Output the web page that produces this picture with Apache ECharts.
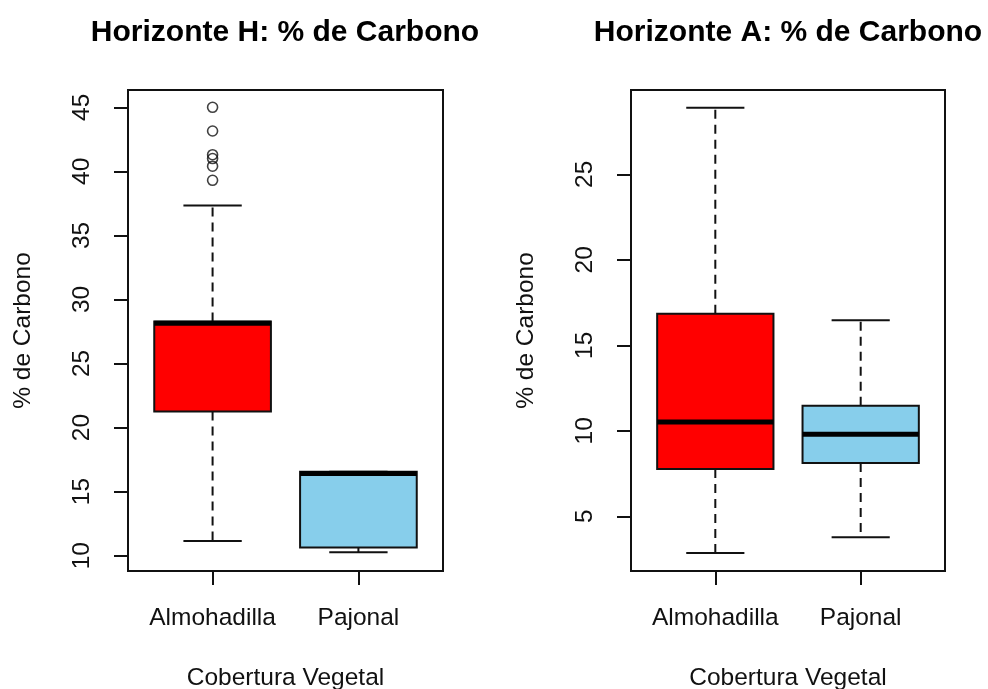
<!DOCTYPE html>
<html>
<head>
<meta charset="utf-8">
<script src="https://cdn.jsdelivr.net/npm/echarts@6/dist/echarts.min.js"></script>
<style>
html,body{margin:0;padding:0;background:#fff;}
#chart{width:988px;height:689px;}
</style>
</head>
<body>
<div id="chart"></div>
<script>
// ---- data ----
const categories = ['Almohadilla', 'Pajonal'];
const boxColors = ['#FF0000', '#87CEEB'];

// Horizonte H
const hMin = [11.15, 10.26];
const hQ1  = [21.26, 10.63];
const hMed = [28.15, 16.42];
const hQ3  = [28.27, 16.55];
const hMax = [37.34, 16.55];
const hOutliers = [45.0, 43.15, 41.3, 41.0, 40.4, 39.3]; // Almohadilla
const hTicks = [10, 15, 20, 25, 30, 35, 40, 45];

// Horizonte A
const aMin = [2.85, 3.77];
const aQ1  = [7.77, 8.12];
const aMed = [10.52, 9.80];
const aQ3  = [16.85, 11.46];
const aMax = [28.89, 16.46];
const aTicks = [5, 10, 15, 20, 25];

const titles = ['Horizonte H: % de Carbono', 'Horizonte A: % de Carbono'];
const xName = 'Cobertura Vegetal';
const yName = '% de Carbono';

// ---- chart ----
const FONT = 'Liberation Sans, Arial, sans-serif';
const INK = '#111';

function boxData(mn, q1, md, q3, mx) {
  return categories.map((c, i) => [i + 1, mn[i], q1[i], md[i], q3[i], mx[i]]);
}

function renderBox(params, api) {
  const x = api.value(0);
  const pLo = api.coord([x, api.value(1)]);
  const pQ1 = api.coord([x, api.value(2)]);
  const pMd = api.coord([x, api.value(3)]);
  const pQ3 = api.coord([x, api.value(4)]);
  const pHi = api.coord([x, api.value(5)]);
  const boxW = api.size([0.8, 0])[0];
  const capW = api.size([0.4, 0])[0];
  const cx = pLo[0];
  const lineStyle = { stroke: INK, lineWidth: 2 };
  const dashStyle = { stroke: INK, lineWidth: 2, lineDash: [9, 6] };
  const children = [];
  if (pHi[1] < pQ3[1] - 0.5) {
    children.push({ type: 'line', shape: { x1: cx, y1: pQ3[1], x2: cx, y2: pHi[1] }, style: dashStyle });
  }
  children.push({ type: 'line', shape: { x1: cx - capW / 2, y1: pHi[1], x2: cx + capW / 2, y2: pHi[1] }, style: lineStyle });
  if (pLo[1] > pQ1[1] + 0.5) {
    children.push({ type: 'line', shape: { x1: cx, y1: pQ1[1], x2: cx, y2: pLo[1] }, style: dashStyle });
  }
  children.push({ type: 'line', shape: { x1: cx - capW / 2, y1: pLo[1], x2: cx + capW / 2, y2: pLo[1] }, style: lineStyle });
  children.push({
    type: 'rect',
    shape: { x: cx - boxW / 2, y: pQ3[1], width: boxW, height: pQ1[1] - pQ3[1] },
    style: { fill: boxColors[params.dataIndex], stroke: INK, lineWidth: 2 }
  });
  children.push({ type: 'line', shape: { x1: cx - boxW / 2, y1: pMd[1], x2: cx + boxW / 2, y2: pMd[1] }, style: { stroke: '#000', lineWidth: 5 } });
  return { type: 'group', children: children };
}

function xAxisCfg(gi) {
  return {
    type: 'value', gridIndex: gi, min: 0.42, max: 2.58,
    splitLine: { show: false },
    axisLine: { show: false, onZero: false },
    axisTick: { show: true, length: 14, lineStyle: { color: INK, width: 2 }, customValues: [1, 2] },
    axisLabel: {
      customValues: [1, 2],
      formatter: v => categories[Math.round(v) - 1],
      fontSize: 24.5, fontFamily: FONT, color: INK, margin: 35
    },
    name: xName, nameLocation: 'middle', nameGap: 95,
    nameTextStyle: { fontSize: 24.5, fontFamily: FONT, color: INK }
  };
}

function yAxisCfg(gi, mn, mx, ticks) {
  return {
    type: 'value', gridIndex: gi, min: mn, max: mx,
    splitLine: { show: false },
    axisLine: { show: false, onZero: false },
    axisTick: { show: true, length: 14, lineStyle: { color: INK, width: 2 }, customValues: ticks },
    axisLabel: {
      customValues: ticks, rotate: 90,
      fontSize: 24.5, fontFamily: FONT, color: INK, margin: 33
    },
    name: yName, nameLocation: 'middle', nameGap: 92,
    nameTextStyle: { fontSize: 24.5, fontFamily: FONT, color: INK }
  };
}

const chart = echarts.init(document.getElementById('chart'), null, { renderer: 'canvas' });
chart.setOption({
  animation: false,
  backgroundColor: '#fff',
  title: [
    { text: titles[0], left: 280, top: 13, textAlign: 'center',
      textStyle: { fontSize: 30, fontWeight: 'bold', fontFamily: FONT, color: '#000' } },
    { text: titles[1], left: 783, top: 13, textAlign: 'center',
      textStyle: { fontSize: 30, fontWeight: 'bold', fontFamily: FONT, color: '#000' } }
  ],
  grid: [
    { left: 128, top: 90, width: 315, height: 481, show: true, borderColor: INK, borderWidth: 2,
      backgroundColor: 'transparent', containLabel: false, outerBoundsMode: 'none' },
    { left: 631, top: 90, width: 314, height: 481, show: true, borderColor: INK, borderWidth: 2,
      backgroundColor: 'transparent', containLabel: false, outerBoundsMode: 'none' }
  ],
  xAxis: [xAxisCfg(0), xAxisCfg(1)],
  yAxis: [yAxisCfg(0, 8.8, 46.35, hTicks), yAxisCfg(1, 1.8, 29.93, aTicks)],
  series: [
    { type: 'custom', xAxisIndex: 0, yAxisIndex: 0, silent: true, renderItem: renderBox,
      encode: { x: 0, y: [1, 2, 3, 4, 5] }, data: boxData(hMin, hQ1, hMed, hQ3, hMax) },
    { type: 'scatter', xAxisIndex: 0, yAxisIndex: 0, silent: true, symbol: 'circle', symbolSize: 10,
      itemStyle: { color: 'rgba(0,0,0,0)', borderColor: INK, borderWidth: 1.6 },
      data: hOutliers.map(v => [1, v]) },
    { type: 'custom', xAxisIndex: 1, yAxisIndex: 1, silent: true, renderItem: renderBox,
      encode: { x: 0, y: [1, 2, 3, 4, 5] }, data: boxData(aMin, aQ1, aMed, aQ3, aMax) }
  ]
});
</script>
</body>
</html>
